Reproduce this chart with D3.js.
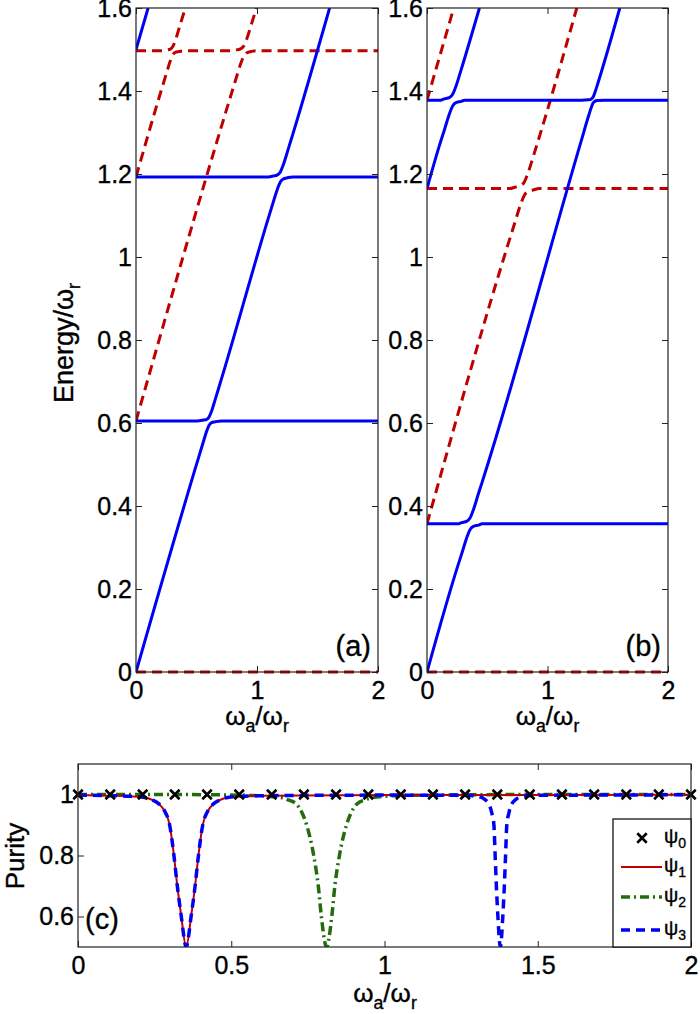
<!DOCTYPE html>
<html><head><meta charset="utf-8">
<script src="https://cdn.jsdelivr.net/npm/d3@7"></script>
<style>
body{margin:0;background:#fff}
text{font-family:"Liberation Sans",Arial,Helvetica,sans-serif;fill:#000;stroke:#000;stroke-width:0.35px}
</style>
</head><body>
<svg id="chart" width="700" height="1014"></svg>
<script>
// ---------- tick data ----------
const energyTicks = [0, 0.2, 0.4, 0.6, 0.8, 1, 1.2, 1.4, 1.6];
const energyTickLabels = ["0", "0.2", "0.4", "0.6", "0.8", "1", "1.2", "1.4", "1.6"];
const omegaTicks = [0, 1, 2];
const omegaTickLabels = ["0", "1", "2"];
const purityTicks = [0.6, 0.8, 1];
const purityTickLabels = ["0.6", "0.8", "1"];
const purityXTicks = [0, 0.5, 1, 1.5, 2];
const purityXTickLabels = ["0", "0.5", "1", "1.5", "2"];

// ---------- panel (a) levels ----------
const a_blue1_x = [0, 0.505, 0.555, 0.585, 0.605, 0.625, 0.655, 0.705, 2];
const a_blue1_y = [0, 0.505, 0.553, 0.581, 0.595, 0.601, 0.603, 0.605, 0.605];
const a_blue2_x = [0, 0.505, 0.555, 0.585, 0.605, 0.625, 0.655, 0.705, 1.093, 1.133, 1.169, 1.193, 1.217, 1.253, 1.293, 2];
const a_blue2_y = [0.605, 0.605, 0.607, 0.609, 0.615, 0.629, 0.657, 0.705, 1.093, 1.131, 1.164, 1.181, 1.188, 1.191, 1.193, 1.193];
const a_blue3_x = [0, 1.093, 1.133, 1.169, 1.193, 1.217, 1.253, 1.293, 1.6];
const a_blue3_y = [1.193, 1.193, 1.195, 1.198, 1.205, 1.222, 1.255, 1.293, 1.6];
const a_blue4_x = [0, 0.1];
const a_blue4_y = [1.5, 1.6];
const a_red0_x = [0, 2];
const a_red0_y = [0, 0];
const a_red1_x = [0, 0.792, 0.832, 0.868, 0.892, 0.916, 0.952, 0.992, 2];
const a_red1_y = [0.605, 1.397, 1.435, 1.468, 1.485, 1.492, 1.495, 1.497, 1.497];
const a_red2_x = [0, 0.204, 0.254, 0.284, 0.304, 0.324, 0.354, 0.404, 0.792, 0.832, 0.868, 0.892, 0.916, 0.952, 0.995];
const a_red2_y = [1.193, 1.397, 1.445, 1.473, 1.487, 1.493, 1.495, 1.497, 1.497, 1.499, 1.502, 1.509, 1.526, 1.559, 1.6];
const a_red3_x = [0, 0.204, 0.254, 0.284, 0.304, 0.324, 0.354, 0.407];
const a_red3_y = [1.497, 1.497, 1.499, 1.501, 1.507, 1.521, 1.549, 1.6];

// ---------- panel (b) levels ----------
const b_blue1_x = [0, 0.257, 0.287, 0.329, 0.357, 0.385, 0.427, 0.457, 2];
const b_blue1_y = [0, 0.257, 0.284, 0.323, 0.343, 0.351, 0.354, 0.357, 0.357];
const b_blue2_x = [0, 0.257, 0.287, 0.329, 0.357, 0.385, 0.427, 0.457, 1.278, 1.343, 1.364, 1.378, 1.392, 1.413, 1.478, 2];
const b_blue2_y = [0.357, 0.357, 0.360, 0.363, 0.371, 0.391, 0.430, 0.457, 1.278, 1.342, 1.361, 1.371, 1.375, 1.377, 1.378, 1.378];
const b_blue3_x = [0, 0.113, 0.143, 0.185, 0.213, 0.241, 0.283, 0.313, 1.278, 1.343, 1.364, 1.378, 1.392, 1.413, 1.6];
const b_blue3_y = [1.165, 1.278, 1.305, 1.344, 1.364, 1.372, 1.375, 1.378, 1.378, 1.379, 1.381, 1.385, 1.395, 1.414, 1.6];
const b_blue4_x = [0, 0.113, 0.143, 0.185, 0.213, 0.241, 0.283, 0.435];
const b_blue4_y = [1.378, 1.378, 1.381, 1.384, 1.392, 1.412, 1.451, 1.6];
const b_red0_x = [0, 2];
const b_red0_y = [0, 0];
const b_red1_x = [0, 0.688, 0.728, 0.776, 0.808, 0.840, 0.888, 0.928, 2];
const b_red1_y = [0.357, 1.045, 1.082, 1.126, 1.149, 1.158, 1.162, 1.165, 1.165];
const b_red2_x = [0, 0.688, 0.728, 0.776, 0.808, 0.840, 0.888, 1.243];
const b_red2_y = [1.165, 1.165, 1.168, 1.172, 1.181, 1.204, 1.248, 1.6];
const b_red3_x = [0, 0.222];
const b_red3_y = [1.378, 1.6];

// ---------- panel (c) purity ----------
const c_psi0_x = [0, 0.105, 0.211, 0.316, 0.421, 0.526, 0.632, 0.737, 0.842, 0.947, 1.053, 1.158, 1.263, 1.368, 1.474, 1.579, 1.684, 1.789, 1.895, 2];
const c_psi0_y = [1, 1, 1, 1, 1, 1, 1, 1, 1, 1, 1, 1, 1, 1, 1, 1, 1, 1, 1, 1];
const c_psi1_x = [0, 0.103, 0.173, 0.218, 0.243, 0.263, 0.283, 0.299, 0.313, 0.324, 0.337, 0.353, 0.369, 0.382, 0.393, 0.407, 0.423, 0.443, 0.463, 0.488, 0.533, 0.603, 1, 2];
const c_psi1_y = [0.998, 0.996, 0.994, 0.99, 0.982, 0.97, 0.945, 0.9, 0.8, 0.7, 0.6, 0.5, 0.6, 0.7, 0.8, 0.9, 0.945, 0.97, 0.982, 0.99, 0.994, 0.996, 0.998, 0.999];
const c_psi2_x = [0, 0.3, 0.561, 0.661, 0.686, 0.711, 0.731, 0.746, 0.769, 0.784, 0.794, 0.811, 0.828, 0.838, 0.853, 0.876, 0.891, 0.911, 0.936, 0.961, 1.061, 1.5, 2];
const c_psi2_y = [1, 1, 0.997, 0.99, 0.982, 0.97, 0.94, 0.9, 0.8, 0.7, 0.6, 0.5, 0.6, 0.7, 0.8, 0.9, 0.94, 0.97, 0.982, 0.99, 0.997, 1, 1];
const c_psi3_x = [0, 0.103, 0.173, 0.218, 0.243, 0.263, 0.283, 0.299, 0.313, 0.324, 0.337, 0.353, 0.369, 0.382, 0.393, 0.407, 0.423, 0.443, 0.463, 0.488, 0.533, 0.603, 1, 1.278, 1.318, 1.328, 1.34, 1.35, 1.357, 1.361, 1.365, 1.37, 1.378, 1.386, 1.391, 1.395, 1.399, 1.406, 1.416, 1.428, 1.438, 1.478, 2];
const c_psi3_y = [0.998, 0.996, 0.994, 0.99, 0.982, 0.97, 0.945, 0.9, 0.8, 0.7, 0.6, 0.5, 0.6, 0.7, 0.8, 0.9, 0.945, 0.97, 0.982, 0.99, 0.994, 0.996, 0.998, 0.997, 0.99, 0.983, 0.97, 0.94, 0.9, 0.8, 0.7, 0.6, 0.5, 0.6, 0.7, 0.8, 0.9, 0.94, 0.97, 0.983, 0.99, 0.997, 0.999];
const legendNames = ["0", "1", "2", "3"];

// ---------- styles ----------
const BLUE = "#0000f5", RED = "#c00000", GREEN = "#236b0c";
const TICKFONT = 25;

const svg = d3.select("#chart");
svg.append("rect").attr("width", 700).attr("height", 1014).attr("fill", "#fff");

const zip = (xs, ys) => xs.map((x, i) => [x, ys[i]]);

function frameAxes(g, x, y, xt, xl, yt, yl) {
  const [x0, x1] = x.range(), [y0, y1] = y.range();
  const tl = 6;
  const bottom = g.append("g").attr("transform", `translate(0,${y0})`)
    .call(d3.axisBottom(x).tickValues(xt).tickFormat((d, i) => xl[i]).tickSize(-tl).tickPadding(9));
  const top = g.append("g").attr("transform", `translate(0,${y1})`)
    .call(d3.axisTop(x).tickValues(xt).tickFormat("").tickSize(-tl));
  const left = g.append("g").attr("transform", `translate(${x0},0)`)
    .call(d3.axisLeft(y).tickValues(yt).tickFormat((d, i) => yl[i]).tickSize(-tl).tickPadding(4));
  const right = g.append("g").attr("transform", `translate(${x1},0)`)
    .call(d3.axisRight(y).tickValues(yt).tickFormat("").tickSize(-tl));
  [bottom, top, left, right].forEach(a => {
    a.select(".domain").remove();
    a.selectAll("line").attr("stroke", "#222").attr("stroke-width", 1);
    a.selectAll("text").attr("font-size", TICKFONT).attr("font-family", '"Liberation Sans",Arial,sans-serif')
      .attr("fill", "#000").attr("stroke", "#000").attr("stroke-width", 0.35);
  });
  g.append("rect").attr("x", x0).attr("y", y1).attr("width", x1 - x0).attr("height", y0 - y1)
    .attr("fill", "none").attr("stroke", "#222").attr("stroke-width", 1.2);
}

function omegaLabel(g, cx, baseline, size) {
  const t = g.append("text").attr("x", cx).attr("y", baseline).attr("text-anchor", "middle").attr("font-size", size);
  t.append("tspan").text("ω");
  t.append("tspan").attr("dy", 7).attr("font-size", size * 0.68).text("a");
  t.append("tspan").attr("dy", -7).text("/ω");
  t.append("tspan").attr("dy", 7).attr("font-size", size * 0.68).text("r");
}

function energyPanel(id, left, right, blues, reds, tag, tagX) {
  const x = d3.scaleLinear().domain([0, 2]).range([left, right]);
  const y = d3.scaleLinear().domain([0, 1.6]).range([672, 8]);
  const g = svg.append("g");
  g.append("clipPath").attr("id", id).append("rect")
    .attr("x", left).attr("y", 8).attr("width", right - left).attr("height", 672 - 8 + 3);
  const line = d3.line().x(d => x(d[0])).y(d => y(d[1])).curve(d3.curveMonotoneX);
  const lg = g.append("g").attr("clip-path", `url(#${id})`);
  reds.forEach(s => lg.append("path").attr("d", line(s)).attr("fill", "none")
    .attr("stroke", RED).attr("stroke-width", 3).attr("stroke-dasharray", "10,6"));
  blues.forEach(s => lg.append("path").attr("d", line(s)).attr("fill", "none")
    .attr("stroke", BLUE).attr("stroke-width", 3));
  frameAxes(g, x, y, omegaTicks, omegaTickLabels, energyTicks, energyTickLabels);
  g.append("text").attr("x", tagX).attr("y", 656).attr("text-anchor", "end").attr("font-size", 29).text(tag);
  omegaLabel(g, (left + right) / 2, 725, 26);
}

energyPanel("clipA", 136, 378,
  [zip(a_blue1_x, a_blue1_y), zip(a_blue2_x, a_blue2_y), zip(a_blue3_x, a_blue3_y), zip(a_blue4_x, a_blue4_y)],
  [zip(a_red0_x, a_red0_y), zip(a_red1_x, a_red1_y), zip(a_red2_x, a_red2_y), zip(a_red3_x, a_red3_y)],
  "(a)", 371);
energyPanel("clipB", 427, 668,
  [zip(b_blue1_x, b_blue1_y), zip(b_blue2_x, b_blue2_y), zip(b_blue3_x, b_blue3_y), zip(b_blue4_x, b_blue4_y)],
  [zip(b_red0_x, b_red0_y), zip(b_red1_x, b_red1_y), zip(b_red2_x, b_red2_y), zip(b_red3_x, b_red3_y)],
  "(b)", 661);

// Energy label
{
  const t = svg.append("text").attr("transform", "translate(73,343) rotate(-90)")
    .attr("text-anchor", "middle").attr("font-size", 27);
  t.append("tspan").text("Energy/ω");
  t.append("tspan").attr("dy", 7).attr("font-size", 18).text("r");
}

// ---------- panel (c) ----------
{
  const x = d3.scaleLinear().domain([0, 2]).range([78, 691]);
  const y = d3.scaleLinear().domain([0.5, 1.1]).range([947, 764]);
  const g = svg.append("g");
  g.append("clipPath").attr("id", "clipC").append("rect")
    .attr("x", 78).attr("y", 764).attr("width", 613).attr("height", 183);
  const line = d3.line().x(d => x(d[0])).y(d => y(d[1])).curve(d3.curveMonotoneX);
  const lg = g.append("g").attr("clip-path", "url(#clipC)");
  lg.append("path").attr("d", line(zip(c_psi2_x, c_psi2_y))).attr("fill", "none")
    .attr("stroke", GREEN).attr("stroke-width", 3.5).attr("stroke-dasharray", "9,4,2,4");
  lg.append("path").attr("d", line(zip(c_psi1_x, c_psi1_y))).attr("fill", "none")
    .attr("stroke", RED).attr("stroke-width", 2);
  lg.append("path").attr("d", line(zip(c_psi3_x, c_psi3_y))).attr("fill", "none")
    .attr("stroke", BLUE).attr("stroke-width", 3.5).attr("stroke-dasharray", "9,6");
  const cross = d3.symbol().type(d3.symbolX).size(60);
  g.selectAll(".m").data(zip(c_psi0_x, c_psi0_y)).enter().append("path")
    .attr("d", cross).attr("transform", d => `translate(${x(d[0])},${y(d[1])})`)
    .attr("fill", "none").attr("stroke", "#000").attr("stroke-width", 2.6);

  frameAxes(g, x, y, purityXTicks, purityXTickLabels, purityTicks, purityTickLabels);
  g.append("text").attr("x", 85).attr("y", 929).attr("font-size", 29).text("(c)");
  omegaLabel(g, 385, 1002, 26);
  svg.append("text").attr("transform", "translate(24,856) rotate(-90)")
    .attr("text-anchor", "middle").attr("font-size", 26).text("Purity");

  // legend
  const lgnd = g.append("g");
  lgnd.append("rect").attr("x", 613).attr("y", 819).attr("width", 78).attr("height", 128)
    .attr("fill", "#fff").attr("stroke", "#000").attr("stroke-width", 1.2);
  const rows = [838, 867, 897, 930];
  const styles = [null, {c: RED, w: 2, d: null}, {c: GREEN, w: 3.5, d: "9,4,2,4"}, {c: BLUE, w: 3.5, d: "9,6"}];
  legendNames.forEach((n, i) => {
    const yy = rows[i];
    if (i === 0) {
      lgnd.append("path").attr("d", cross).attr("transform", `translate(642,${yy})`)
        .attr("fill", "none").attr("stroke", "#000").attr("stroke-width", 2.6);
    } else {
      const s = styles[i];
      lgnd.append("line").attr("x1", 621).attr("x2", 662).attr("y1", yy).attr("y2", yy)
        .attr("stroke", s.c).attr("stroke-width", s.w).attr("stroke-dasharray", s.d);
    }
    const t = lgnd.append("text").attr("x", 664).attr("y", yy + 5).attr("font-size", 20);
    t.append("tspan").text("ψ");
    t.append("tspan").attr("dy", 5).attr("font-size", 14).text(n);
  });
}
</script>
</body></html>
